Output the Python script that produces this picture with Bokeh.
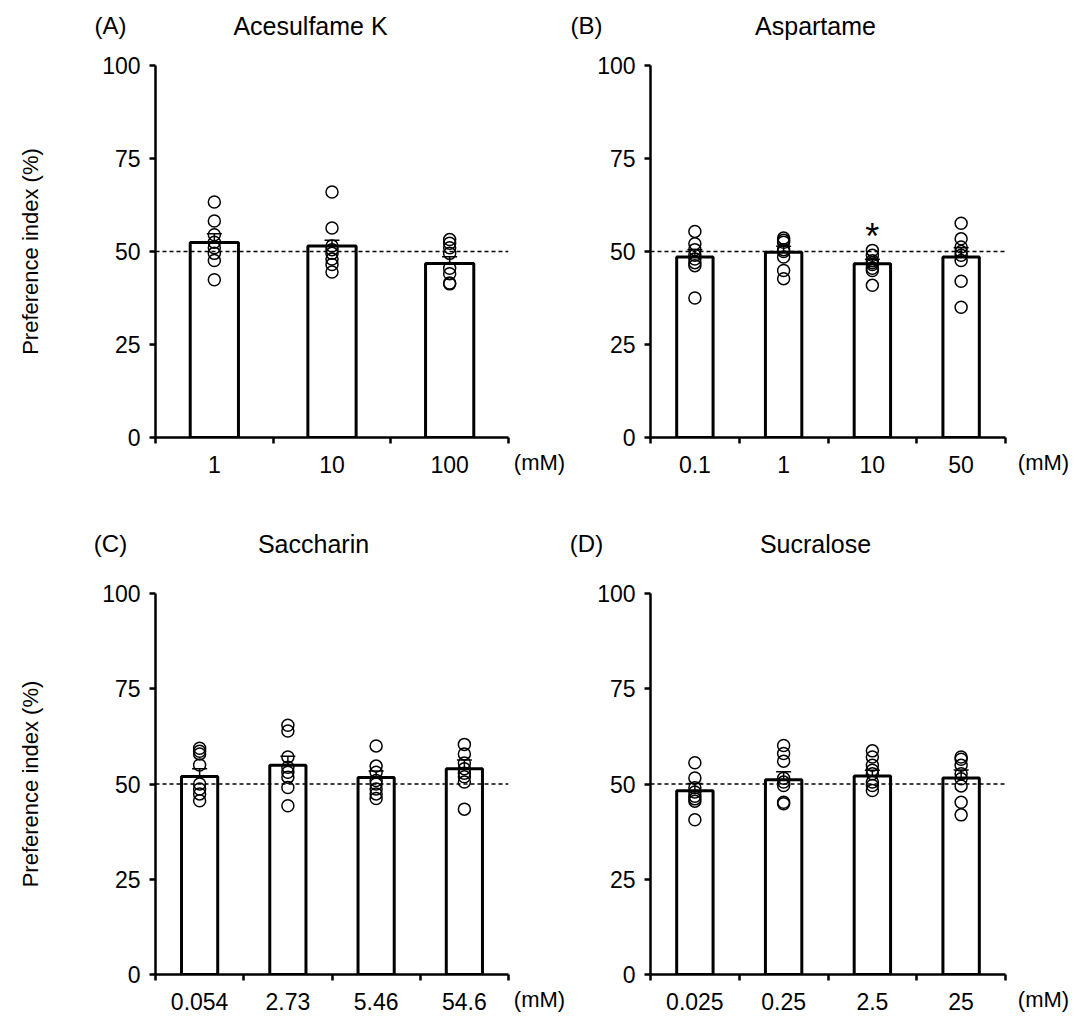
from bokeh.plotting import figure
from bokeh.models import Range1d, FixedTicker, Label, Span, Whisker, TeeHead, ColumnDataSource
from bokeh.layouts import column, row
from bokeh.embed import file_html
from bokeh.resources import INLINE

FONT = "Liberation Sans"

# ---------------- data ----------------
letters = ["(A)", "(B)", "(C)", "(D)"]
titles = ["Acesulfame K", "Aspartame", "Saccharin", "Sucralose"]
unit_text = "(mM)"

conc_A = ["1", "10", "100"]
conc_B = ["0.1", "1", "10", "50"]
conc_C = ["0.054", "2.73", "5.46", "54.6"]
conc_D = ["0.025", "0.25", "2.5", "25"]

mean_A = [52.4, 51.5, 46.8]
sem_A = [2.4, 1.5, 1.8]
mean_B = [48.5, 49.8, 46.7, 48.5]
sem_B = [2.0, 1.6, 1.2, 2.5]
mean_C = [52.0, 54.9, 51.7, 54.0]
sem_C = [2.0, 2.4, 1.7, 2.3]
mean_D = [48.2, 51.1, 52.1, 51.6]
sem_D = [1.9, 2.1, 1.5, 2.1]

pts_A = [
    [63.3, 58.2, 54.5, 52.5, 51.0, 49.5, 47.6, 42.4],
    [66.0, 56.3, 51.5, 50.5, 49.5, 48.0, 46.5, 44.5],
    [53.2, 52.2, 51.0, 49.5, 45.5, 44.0, 41.5, 41.3],
]
pts_B = [
    [55.4, 52.1, 50.5, 49.0, 48.0, 47.0, 46.2, 37.5],
    [53.6, 53.0, 52.5, 50.5, 50.0, 48.5, 44.9, 42.7],
    [50.3, 49.0, 47.5, 47.0, 46.5, 45.5, 44.9, 40.9],
    [57.6, 53.4, 51.2, 50.0, 49.0, 47.6, 42.0, 35.0],
]
pts_C = [
    [59.4, 58.6, 57.9, 55.0, 50.0, 48.7, 47.4, 45.6],
    [65.4, 63.9, 57.1, 54.4, 53.1, 51.8, 49.1, 44.3],
    [60.0, 54.7, 53.1, 50.9, 50.0, 48.7, 47.4, 46.2],
    [60.4, 57.9, 55.5, 54.0, 52.8, 51.9, 50.5, 43.4],
]
pts_D = [
    [55.6, 51.6, 49.0, 47.9, 46.8, 46.1, 45.5, 40.6],
    [60.1, 58.0, 56.0, 51.5, 50.5, 49.6, 45.2, 44.8],
    [58.7, 57.1, 54.9, 53.6, 52.7, 50.5, 49.6, 48.3],
    [57.1, 56.5, 54.9, 52.7, 51.4, 49.5, 45.2, 41.9],
]
star_B = [None, None, "*", None]

y_ticks = [0, 25, 50, 75, 100]
ref_level = 50

TICK_FS = "23px"
TICK_STANDOFF = 12


def make_panel(cats, means, sems, pts, stars, ylabel, w, h, bl, br, bt, bb):
    n = len(cats)
    p = figure(width=w, height=h, output_backend="svg", toolbar_location=None,
               x_range=Range1d(-0.5, n - 0.5), y_range=Range1d(0, 100),
               min_border_left=bl, min_border_right=br,
               min_border_top=bt, min_border_bottom=bb)
    p.outline_line_color = None
    p.grid.visible = False

    xs = list(range(n))
    src = ColumnDataSource(dict(x=xs, top=means,
                                upper=[m + s for m, s in zip(means, sems)],
                                lower=[m - s for m, s in zip(means, sems)]))
    p.vbar(x="x", top="top", bottom=0, width=0.41, source=src,
           fill_color="white", line_color="black", line_width=3)
    p.add_layout(Span(location=ref_level, dimension="width", line_color="black",
                      line_width=1.5, line_dash="4 3"))

    px, py = [], []
    for i, vals in enumerate(pts):
        for v in vals:
            px.append(i)
            py.append(v)
    p.scatter(px, py, marker="circle", size=12, fill_color=None,
              line_color="black", line_width=1.5)

    p.add_layout(Whisker(base="x", upper="upper", lower="lower", source=src,
                         line_color="black", line_width=1.5,
                         upper_head=TeeHead(size=15, line_width=1.5, line_color="black"),
                         lower_head=TeeHead(size=15, line_width=1.5, line_color="black")))

    for i, s in enumerate(stars):
        if s:
            p.add_layout(Label(x=i, y=sems[i] + means[i] + 6.0, text=s, text_align="center",
                               text_baseline="middle", text_font=FONT,
                               text_font_size="36px", text_color="black"))

    xa = p.xaxis[0]
    xa.ticker = FixedTicker(ticks=xs, minor_ticks=[i - 0.5 for i in range(n + 1)])
    xa.major_label_overrides = {i: c for i, c in enumerate(cats)}
    xa.major_tick_out = 0
    xa.major_tick_in = 0
    xa.minor_tick_out = 6
    xa.minor_tick_in = 0
    xa.minor_tick_line_width = 2.5
    xa.minor_tick_line_color = "black"
    xa.axis_line_width = 2.5
    xa.axis_line_color = "black"
    xa.major_label_standoff = TICK_STANDOFF
    xa.major_label_text_font = FONT
    xa.major_label_text_font_size = TICK_FS
    xa.major_label_text_color = "black"

    ya = p.yaxis[0]
    ya.ticker = FixedTicker(ticks=y_ticks, minor_ticks=[])
    ya.major_tick_out = 6
    ya.major_tick_in = 0
    ya.major_tick_line_width = 2.5
    ya.major_tick_line_color = "black"
    ya.minor_tick_out = 0
    ya.minor_tick_in = 0
    ya.axis_line_width = 2.5
    ya.axis_line_color = "black"
    ya.major_label_standoff = 9
    ya.major_label_text_font = FONT
    ya.major_label_text_font_size = TICK_FS
    ya.major_label_text_color = "black"
    if ylabel:
        ya.axis_label = ylabel
        ya.axis_label_text_font = FONT
        ya.axis_label_text_font_size = "22px"
        ya.axis_label_text_font_style = "normal"
        ya.axis_label_text_color = "black"
        ya.axis_label_standoff = 56
    return p


def holder(w, h, items):
    """Blank figure carrying the panel letters and titles.
    items: (x, y, text, size) in pixels from the holder's top-left corner."""
    p = figure(width=w, height=h, output_backend="svg", toolbar_location=None,
               x_range=Range1d(0, w), y_range=Range1d(h, 0), min_border=0,
               x_axis_type=None, y_axis_type=None)
    p.outline_line_color = None
    p.grid.visible = False
    for x, y, t, fs in items:
        p.add_layout(Label(x=x, y=y, text=t, text_align="center", text_baseline="middle",
                           text_font=FONT, text_font_size=fs, text_color="black"))
    return p


def unit_holder(w, h, bt, bb):
    """Narrow figure whose bottom axis shows only the unit label, level with tick labels."""
    p = figure(width=w, height=h, output_backend="svg", toolbar_location=None,
               x_range=Range1d(0, w), y_range=Range1d(0, 1),
               min_border_left=0, min_border_right=0,
               min_border_top=bt, min_border_bottom=bb, y_axis_type=None)
    p.outline_line_color = None
    p.grid.visible = False
    xa = p.xaxis[0]
    mid = w // 2
    xa.ticker = FixedTicker(ticks=[mid], minor_ticks=[])
    xa.major_label_overrides = {mid: unit_text}
    xa.axis_line_color = None
    xa.major_tick_out = 0
    xa.major_tick_in = 0
    xa.minor_tick_out = 0
    xa.minor_tick_in = 0
    xa.major_label_standoff = TICK_STANDOFF
    xa.major_label_text_font = FONT
    xa.major_label_text_font_size = "22px"
    xa.major_label_text_color = "black"
    return p


# row 1
sA = holder(568, 45, [(110, 25, letters[0], "24px"), (310, 25, titles[0], "25px")])
sB = holder(508, 45, [(18, 25, letters[1], "24px"), (247, 25, titles[1], "25px")])
pA = make_panel(conc_A, mean_A, sem_A, pts_A, [None] * 3, "Preference index (%)",
                511, 445, 155, 3, 20, 53)
uA = unit_holder(57, 445, 20, 53)
pB = make_panel(conc_B, mean_B, sem_B, pts_B, star_B, None,
                442, 445, 82, 5, 20, 53)
uB = unit_holder(66, 445, 20, 53)

# row 2
sC = holder(568, 80, [(110, 53, letters[2], "24px"), (313, 53, titles[2], "25px")])
sD = holder(508, 80, [(18, 53, letters[3], "24px"), (247, 53, titles[3], "25px")])
pC = make_panel(conc_C, mean_C, sem_C, pts_C, [None] * 4, "Preference index (%)",
                511, 448, 155, 3, 23, 44)
uC = unit_holder(57, 448, 23, 44)
pD = make_panel(conc_D, mean_D, sem_D, pts_D, [None] * 4, None,
                442, 448, 82, 5, 23, 44)
uD = unit_holder(66, 448, 23, 44)

layout = column(row(sA, sB), row(pA, uA, pB, uB),
                row(sC, sD), row(pC, uC, pD, uD))
open("out.html", "w").write(file_html(layout, INLINE))
